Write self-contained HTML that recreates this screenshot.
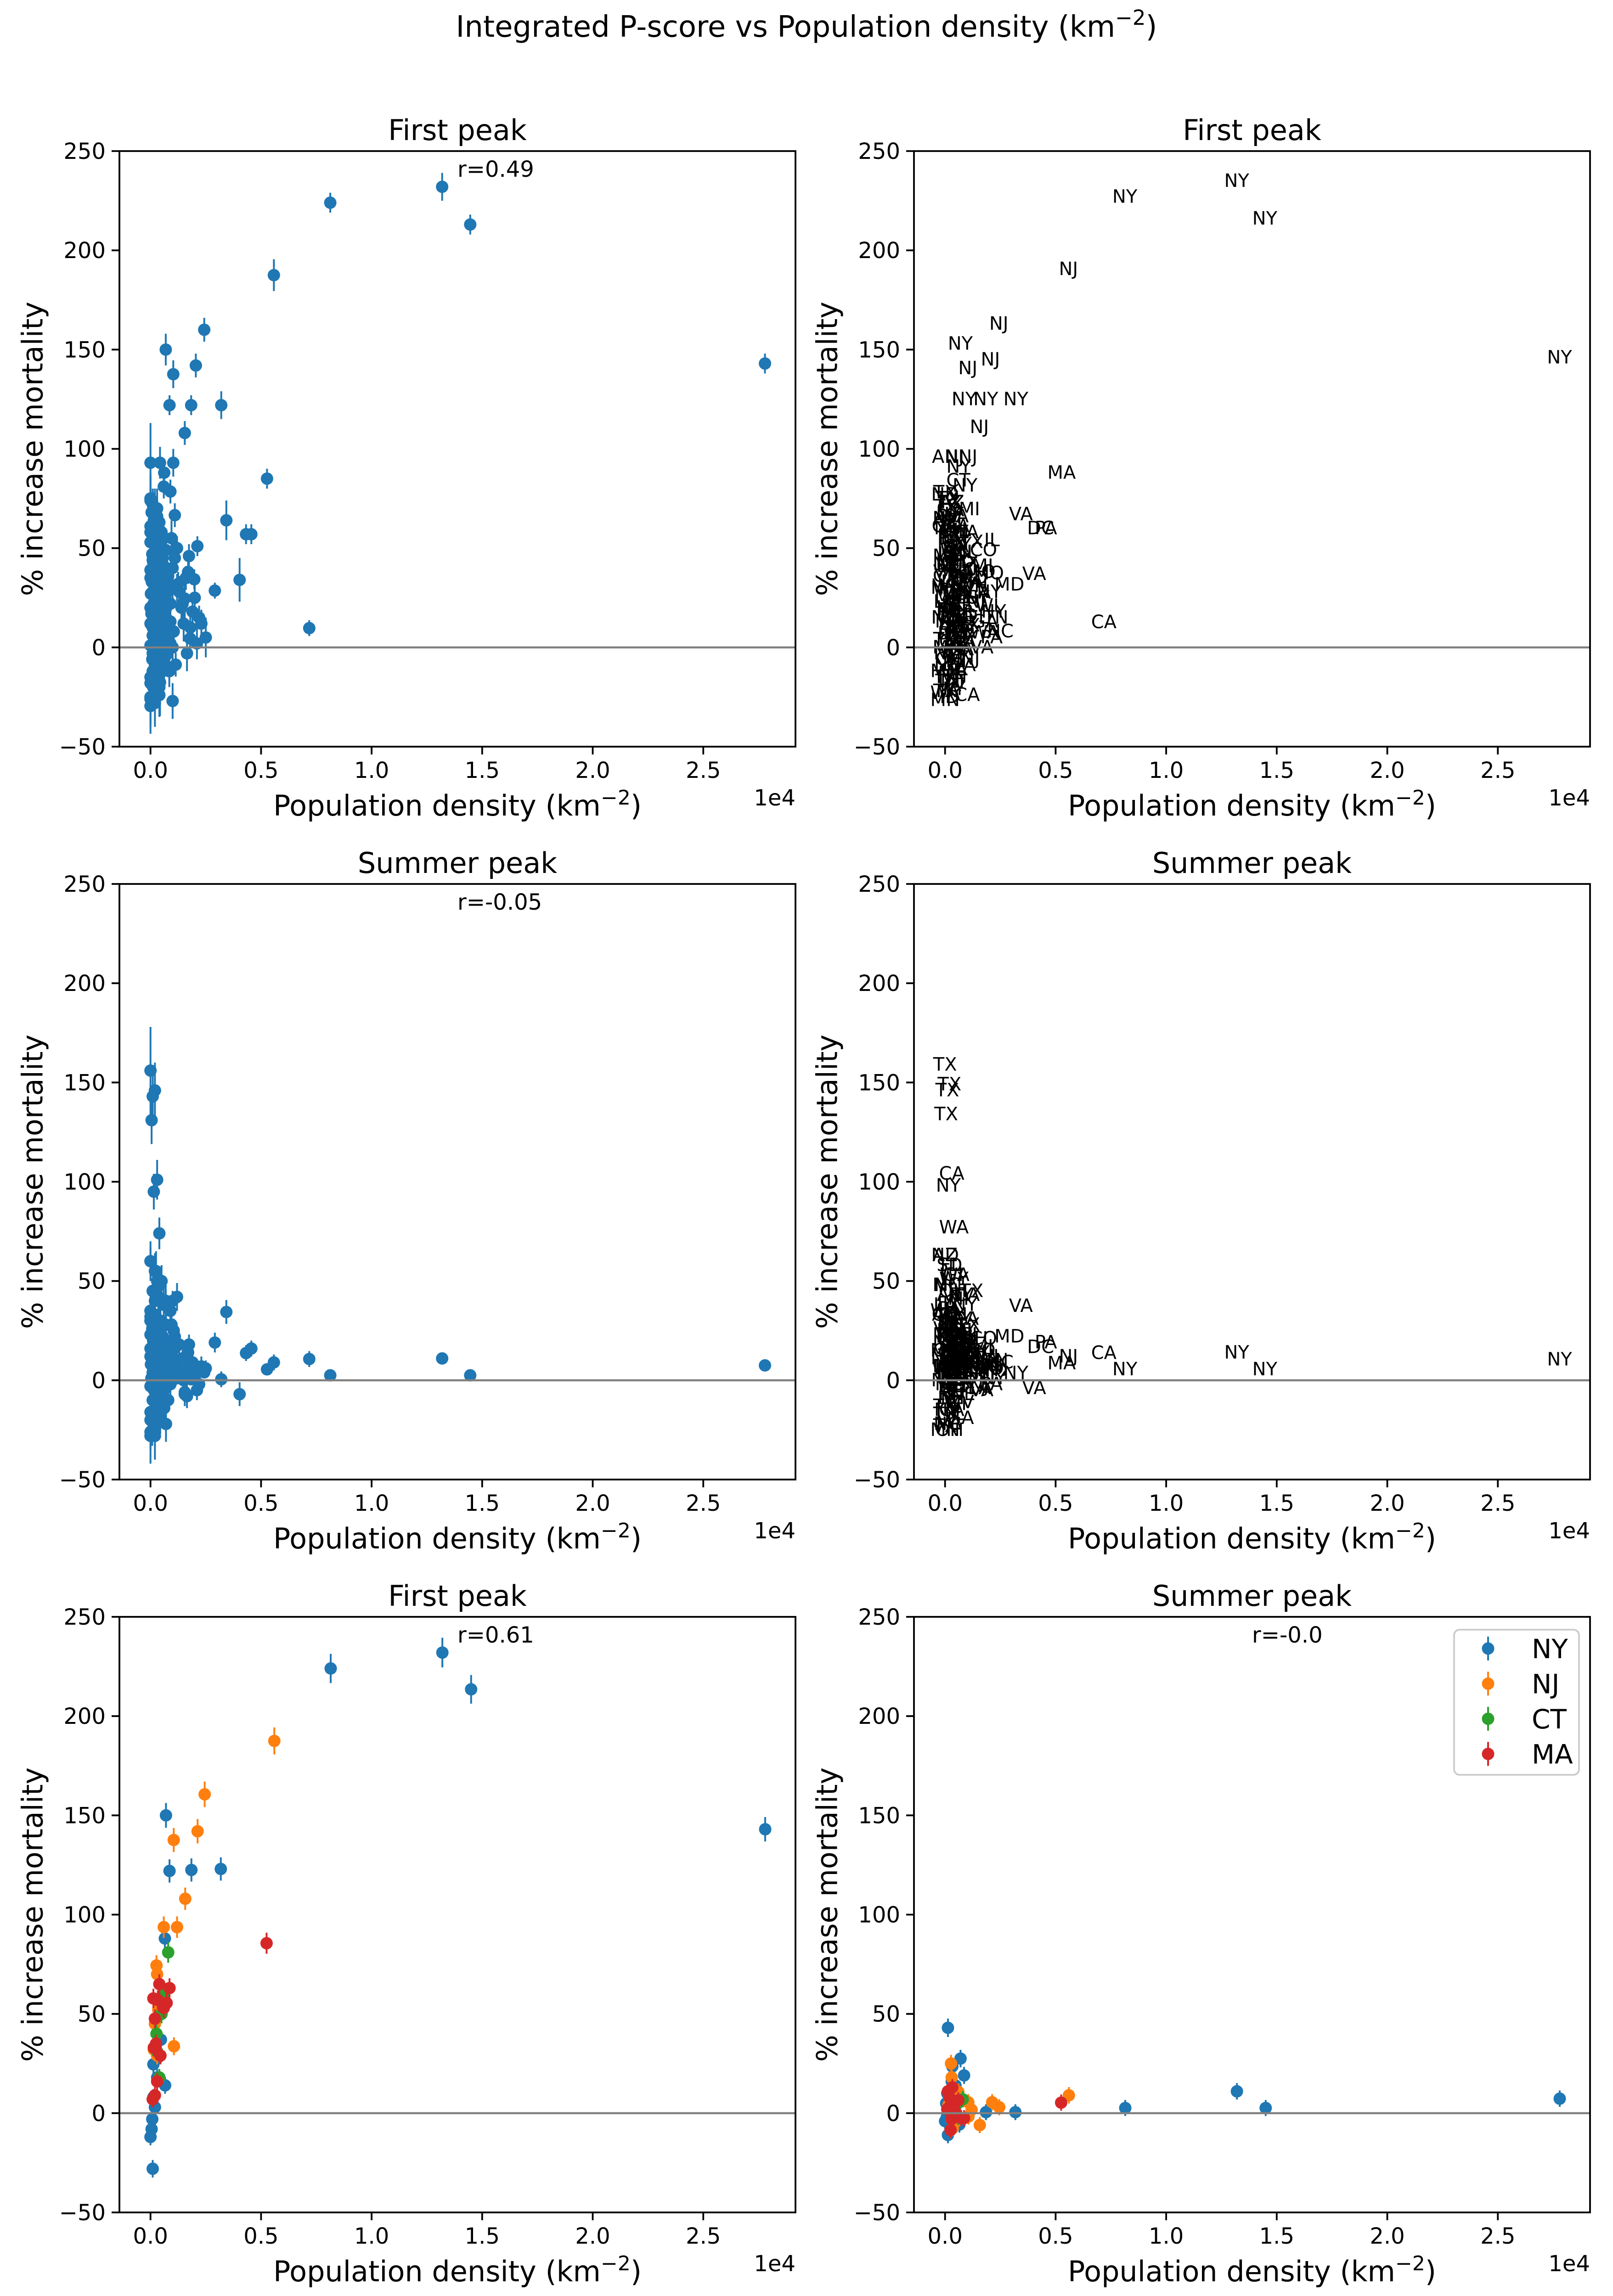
<!DOCTYPE html>
<html><head><meta charset="utf-8">
<style>
html,body{margin:0;padding:0;background:#fff;overflow:hidden;width:3512px;height:5034px;}
svg{display:block;overflow:hidden;font-family:"DejaVu Sans","Liberation Sans",sans-serif;}
</style></head>
<body>
<svg id="fig" xmlns="http://www.w3.org/2000/svg" width="3512" height="5034" viewBox="0 0 3512 5034">
<rect x="0" y="0" width="3512" height="5034" fill="#fff"/>
<text x="1756" y="80" font-size="64" text-anchor="middle" fill="#000">Integrated P-score vs Population density (km<tspan font-size="45" dy="-26">−2</tspan><tspan dy="26">)</tspan></text>
</svg>
<script>
// ---- all counties: shared x (1e4 km^-2), first peak, summer peak, state labels ----
const xAll=[1.319,0.813,1.446,0.558,2.779,0.243,0.069,0.205,0.103,0.086,0.184,0.32,0.155,0.0,0.043,0.103,0.062,0.06,0.09,0.527,0.11,0.343,0.432,0.456,0.212,0.12,0.174,0.403,0.198,0.291,0.155,0.718,0.179,0.114,0.043,0.0,
0.0,0.01,0.02,0.005,0.03,0.015,0.04,0.0,0.025,0.05,0.01,0.035,0.06,0.0,0.02,0.045,0.07,0.008,0.03,0.055,0.012,0.04,0.065,0.0,0.018,0.05,0.075,0.006,0.028,0.038,0.08,0.002,0.022,0.048,0.058,0.014,0.033,0.068,0.004,0.026,0.042,0.09,0.0,0.016,0.036,0.052,0.01,0.024,0.062,0.0,0.03,0.044,0.07,0.008,0.02,0.085,0.0,0.012,0.04,0.1,
0.1,0.12,0.14,0.16,0.18,0.2,0.22,0.25,0.11,0.13,0.15,0.17,0.19,0.21,0.095,0.105,0.125,0.145,0.165,0.23,
0.0,0.02,0.04,0.06,0.08,0.1,0.01,0.03,0.05,0.07,0.09,0.0,0.02,0.04,0.06,0.08,0.1,0.01,0.03,0.05,0.07,0.09,0.0,0.02,0.04,0.06,0.08,0.01,0.03,0.05,0.07,0.0,0.02,0.04,0.06,0.01,0.03,0.05,0.0,0.02,0.04,0.01,0.03,0.0,0.02,0.01,0.0,0.03,0.05,0.07];
const yFirst=[232,224,213,187.5,143,160,150,142,137.6,122,122,122,108,93,93,93,88,81,78.5,85,66.6,64,57,57,51,50,46,34,34.3,28.6,24.6,9.7,4.5,-8.7,-17.6,-29.5,
75,72,70,68,66,64,63,61,60,58,57,56,55,53,52,50,49,47,46,45,43,42,40,39,38,36,35,33,32,30,29,27,26,25,23,22,20,19,17,16,15,13,12,10,9,7,6,4,3,1,0,-2,-4,-6,-9,-12,-15,-20,-24,-27,
40,30,20,35,10,25,15,5,45,28,12,38,18,2,55,8,32,22,-3,12,
58,52,47,41,36,30,44,38,33,27,22,20,16,12,8,5,0,-3,-6,-10,-4,2,-18,-22,-14,-8,12,28,18,24,15,-26,-28,-20,3,62,70,48,74,66,55,-12,-16,35,40,10,-25,6,-1,9];
const eFirst=[7,5,5,8,5,6,8,6,7,5,5,7,6,20,8,7,7,6,6,5,6,10,5,5,5,6,6,11,5,4,10,4,5,6,17,14,
12,8,10,7,9,14,6,11,8,7,10,12,6,9,15,7,8,11,10,6,9,13,7,18,8,9,6,10,12,7,8,14,9,7,6,10,11,8,16,9,7,6,20,10,8,7,12,9,6,15,8,7,6,10,9,8,14,12,11,9,
8,7,9,6,8,7,6,10,7,8,9,6,7,8,9,7,6,8,9,7,
9,8,7,10,6,8,9,7,6,8,10,12,9,7,8,6,10,11,8,7,9,6,12,10,8,7,6,9,8,7,6,14,12,9,7,8,10,9,12,8,7,10,9,8,7,6,13,8,7,6];
const ySummer=[11,2.5,2.5,9,7.5,4,40,4.5,20,15,0.5,0.5,-6,30,25,17,12,8,35,5.5,10,34.4,13.7,16,5,42,18,-7,3,19,-7,10.7,4.8,2,8,-28,
156,143,146,131,101,95,74,60,55,50,45,42,38,35,33,30,28,26,24,22,20,19,18,16,15,14,13,12,11,10,9,8,7,6,5,4,3,2,1,0,-1,-2,-3,-5,-6,-8,-10,-12,-14,-16,-18,-20,-22,-25,-28,5,12,20,30,40,
15,10,5,12,8,2,-2,6,22,18,0,14,9,-5,28,25,3,11,-8,7,
30,25,20,15,10,5,28,22,18,12,8,35,40,2,-5,-10,0,45,50,-15,-3,14,-20,-24,6,11,16,3,-8,9,20,32,26,-12,1,4,-2,7,60,55,48,-18,-6,23,19,13,-26,17,21,8];
const eSummer=[3,2,2,4,2,3,8,3,6,5,3,4,5,12,8,6,5,5,6,3,5,6,4,4,3,7,5,6,4,5,6,4,3,4,8,14,
22,15,14,12,10,9,8,7,10,8,6,7,9,6,8,7,6,5,7,6,8,5,6,7,5,6,7,5,6,4,5,6,5,4,6,5,4,5,6,4,5,6,4,5,6,7,5,6,7,8,6,7,9,8,12,5,6,7,6,5,
6,5,4,5,4,6,5,4,6,5,4,5,6,5,7,6,5,4,6,5,
6,5,7,6,5,4,6,5,7,6,5,8,7,6,5,6,4,7,8,6,5,6,9,8,6,5,4,6,7,5,6,8,7,6,5,6,5,6,10,9,8,7,6,5,6,5,9,6,5,4];
const stateAll=["NY","NY","NY","NJ","NY","NJ","NY","NJ","NJ","NY","NY","NY","NJ","AN","NJ","NJ","NY","CT","NY","MA","MI","VA","DC","PA","IL","TX","CO","VA","MO","MD","LA","CA","WA","NJ","TN","MN",
"TX","TX","TX","TX","CA","NY","WA","AZ","FL","GA","NC","OH","MI","IL","PA","TN","KY","IN","WI","MN","MO","VA","MD","NY","SC","AL","LA","OR","CO","UT","NV","NM","KS","OK","AR","MS","IA","NE","ID","MT","WY","SD","ND","ME","NH","VT","RI","DE","WV","TX","CA","FL","GA","NC","OH","VA","MN","TN","KY","CA",
"TX","VA","NJ","MO","GA","NY","NY","NC","IL","OH","FL","MI","WI","PA","CA","TX","MD","NY","VA","TN",
"GA","TX","VA","KY","NC","OH","IN","MO","TN","AL","MS","LA","AR","OK","KS","NE","IA","MN","WI","MI","PA","NY","TX","VA","GA","KY","SC","WV","FL","CO","OR","WA","ID","MT","UT","NM","AZ","CA","ND","SD","WY","NV","ME","VT","NH","IL","TX","GA","VA","MO"];

// ---- tri-state + MA subset ----
const nyX=[1.32,0.815,1.45,2.78,0.07,0.086,0.185,0.318,0.065,0.047,0.033,0.066,0.013,0.013,0.005,0.01,0.02,0.008,0.03,0.0];
const nyFirst=[232,224,213.5,143,150,122,122.5,123,88,37,28,14,24.6,8,-8,-28,3,-3,18,-12];
const nySummer=[11,2.6,2.6,7.3,27.5,19,0.5,0.5,-5.7,14,23.5,7,43,-11,5,10,2,-2,16,-4];
const njX=[0.56,0.245,0.213,0.105,0.157,0.06,0.12,0.027,0.03,0.106,0.035,0.03,0.015,0.05,0.02];
const njFirst=[187.5,160.6,142,137.6,108,93.7,93.7,74.4,70,33.7,52,29,32,55,45];
const njSummer=[9,3,5.5,5.5,-6,10.7,1.7,25,18,-1.7,-7.5,12,4,-4,8];
const ctX=[0.08,0.027,0.03,0.04,0.06,0.05];
const ctFirst=[81,40,31,18,60,50];
const ctSummer=[7,5,0,3,-2,4];
const maX=[0.525,0.086,0.073,0.06,0.033,0.013,0.02,0.025,0.045,0.03,0.02,0.01,0.04,0.015];
const maFirst=[85.6,63,55.5,53,57,57.8,47.6,35,29,16,9,7,65,33];
const maSummer=[5.3,-2.5,-2.5,6.5,13,11,3,-8.5,1,-3,8,2,0,10];

const xTicks=[0,0.5,1.0,1.5,2.0,2.5];
const xTickLabels=["0.0","0.5","1.0","1.5","2.0","2.5"];
const yTicks=[-50,0,50,100,150,200,250];
const yTickLabels=["−50","0","50","100","150","200","250"];
const rTexts=["r=0.49","","r=-0.05","","r=0.61","r=-0.0"];
const titles=["First peak","First peak","Summer peak","Summer peak","First peak","Summer peak"];

const NS="http://www.w3.org/2000/svg";
const svg=document.getElementById('fig');
const W=1472,H=1297,XMIN=-0.1406,XMAX=2.917,YMIN=-50,YMAX=250;
const panels=[[260,329],[1990,329],[260,1925],[1990,1925],[260,3521],[1990,3521]];
const C={NY:"#1f77b4",NJ:"#ff7f0e",CT:"#2ca02c",MA:"#d62728"};

function mk(tag,attrs,parent){const e=document.createElementNS(NS,tag);for(const k in attrs)e.setAttribute(k,attrs[k]);(parent||svg).appendChild(e);return e;}

function axes(i){
  const L=panels[i][0],T=panels[i][1];
  return {L:L,T:T,sx:x=>L+(x-XMIN)/(XMAX-XMIN)*W,sy:y=>T+(YMAX-y)/(YMAX-YMIN)*H};
}

function drawFrame(i,a){
  const g=mk('g',{});
  
  
  const cp=mk('clipPath',{id:'clip'+i},g);
  mk('rect',{x:a.L,y:a.T,width:W,height:H},cp);
  const t=mk('text',{x:a.L+W/2,y:a.T-24,'font-size':62,'text-anchor':'middle'},g);
  t.textContent=titles[i];
  
  
  for(let k=0;k<xTicks.length;k++){
    const px=a.sx(xTicks[k]);
    const tk=mk('line',{x1:px,x2:px,y1:a.T+H,y2:a.T+H+17,stroke:'#000','stroke-width':3.8},g);
    
    
    const tl=mk('text',{x:px,y:a.T+H+68,'font-size':48,'text-anchor':'middle'},g);
    tl.textContent=xTickLabels[k];
    
    
  }
  for(let k=0;k<yTicks.length;k++){
    const py=a.sy(yTicks[k]);
    const tk=mk('line',{x1:a.L-17,x2:a.L,y1:py,y2:py,stroke:'#000','stroke-width':3.8},g);
    
    
    const tl=mk('text',{x:a.L-30,y:py+17,'font-size':48,'text-anchor':'end'},g);
    tl.textContent=yTickLabels[k];
    
    
  }
  const xl=mk('text',{x:a.L+W/2,y:a.T+H+150,'font-size':62,'text-anchor':'middle'},g);
  xl.innerHTML='Population density (km<tspan font-size="44" dy="-24">−2</tspan><tspan dy="24">)</tspan>';
  
  
  const off=mk('text',{x:a.L+W,y:a.T+H+128,'font-size':48,'text-anchor':'end'},g);
  off.textContent='1e4';
  
  
  const cy=a.T+H/2;
  const yl=mk('text',{x:a.L-189,y:cy,'font-size':62,'text-anchor':'middle','dominant-baseline':'central',transform:'rotate(-90 '+(a.L-189)+' '+cy+')'},g);
  yl.textContent='% increase mortality';
  
  
  const plot=mk('g',{'clip-path':'url(#clip'+i+')'},g);
  
  
  return {g:g,plot:plot};
}

function finish(i,a,g){
  const z=mk('line',{x1:a.L,x2:a.L+W,y1:a.sy(0),y2:a.sy(0),stroke:'#808080','stroke-width':4.5},g);
  
  
  const fr=mk('rect',{x:a.L,y:a.T,width:W,height:H,fill:'none',stroke:'#000','stroke-width':3.8},g);
  
  
  if(rTexts[i]){
    const r=mk('text',{x:a.L+W/2,y:a.T+56,'font-size':48},g);
    r.textContent=rTexts[i];
    
    
  }
}

function points(a,parent,xs,ys,es,color){
  for(let k=0;k<xs.length;k++){
    const px=a.sx(xs[k]),py=a.sy(ys[k]),e=es?es[k]:(4+Math.abs(ys[k])*0.015);
    const l=mk('line',{x1:px,x2:px,y1:a.sy(ys[k]+e),y2:a.sy(ys[k]-e),stroke:color,'stroke-width':4},parent);
    
    
    const c=mk('circle',{cx:px,cy:py,r:13.5,fill:color},parent);
    
    
  }
}

function labels(a,parent,xs,ys,st){
  for(let k=0;k<xs.length;k++){
    const t=mk('text',{x:a.sx(xs[k]),y:a.sy(ys[k]),'font-size':40,'text-anchor':'middle',fill:'#000'},parent);
    t.textContent=st[k];
    
    
  }
}

let a=axes(0),f=drawFrame(0,a);
points(a,f.plot,xAll,yFirst,eFirst,C.NY);finish(0,a,f.g);
a=axes(1);f=drawFrame(1,a);
labels(a,f.plot,xAll,yFirst,stateAll);finish(1,a,f.g);
a=axes(2);f=drawFrame(2,a);
points(a,f.plot,xAll,ySummer,eSummer,C.NY);finish(2,a,f.g);
a=axes(3);f=drawFrame(3,a);
labels(a,f.plot,xAll,ySummer,stateAll);finish(3,a,f.g);
a=axes(4);f=drawFrame(4,a);
points(a,f.plot,nyX,nyFirst,null,C.NY);
points(a,f.plot,njX,njFirst,null,C.NJ);
points(a,f.plot,ctX,ctFirst,null,C.CT);
points(a,f.plot,maX,maFirst,null,C.MA);
finish(4,a,f.g);
a=axes(5);f=drawFrame(5,a);
points(a,f.plot,nyX,nySummer,null,C.NY);
points(a,f.plot,njX,njSummer,null,C.NJ);
points(a,f.plot,ctX,ctSummer,null,C.CT);
points(a,f.plot,maX,maSummer,null,C.MA);
finish(5,a,f.g);

const leg=mk('g',{});


const lb=mk('rect',{x:3166,y:3549,width:272,height:316,rx:12,fill:'#fff','fill-opacity':0.8,stroke:'#cccccc','stroke-width':3.8},leg);


const legNames=["NY","NJ","CT","MA"];
for(let k=0;k<4;k++){
  const y=3590+k*76.5;
  const e=mk('g',{},leg);
  
  
  const ln=mk('line',{x1:3240,x2:3240,y1:y-26,y2:y+26,stroke:C[legNames[k]],'stroke-width':4},e);
  
  
  const c=mk('circle',{cx:3240,cy:y,r:13.5,fill:C[legNames[k]]},e);
  
  
  const t=mk('text',{x:3335,y:y+21,'font-size':58},e);
  t.textContent=legNames[k];
  
  
}
</script>
</body></html>
